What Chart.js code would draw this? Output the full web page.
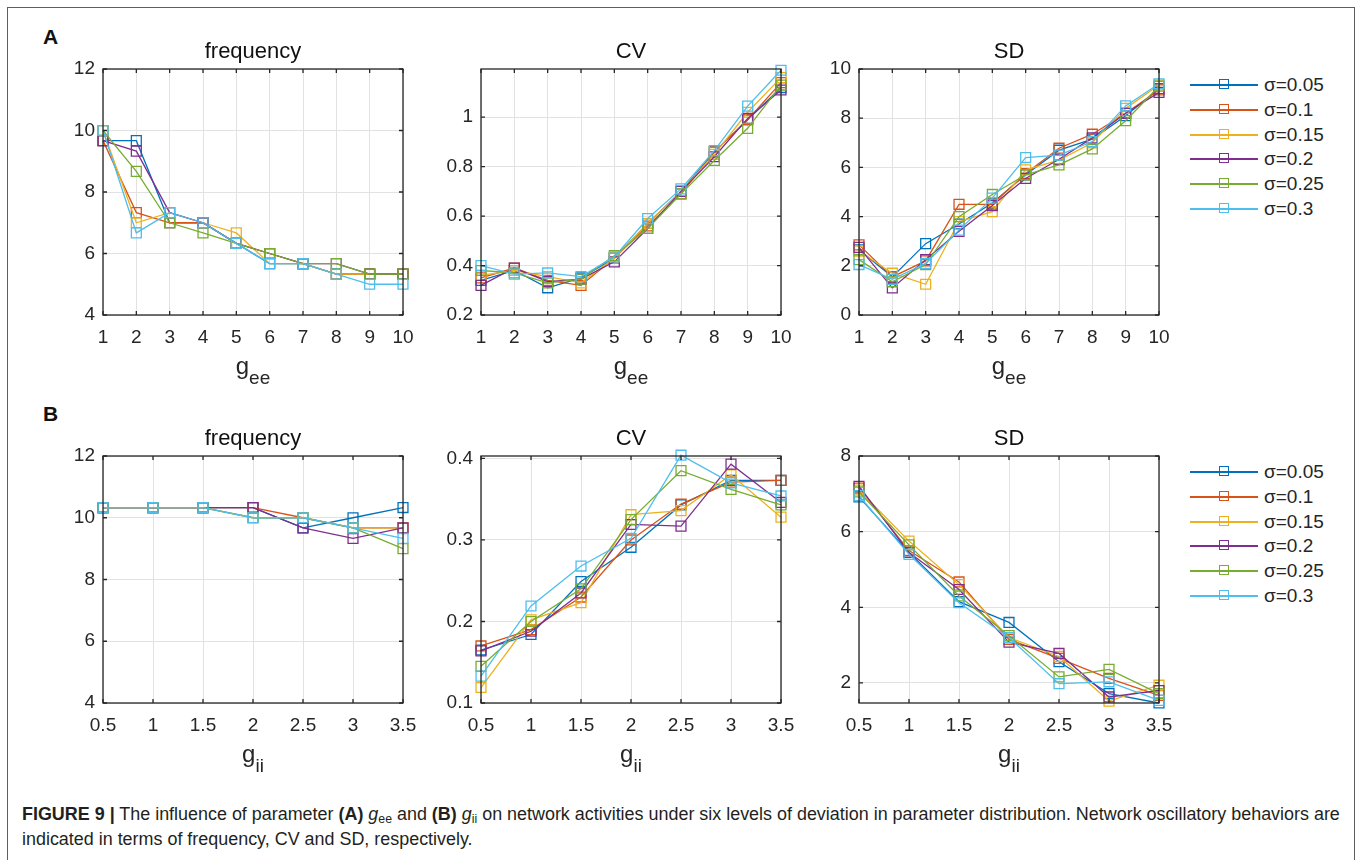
<!DOCTYPE html>
<html>
<head>
<meta charset="utf-8">
<script src="https://cdn.jsdelivr.net/npm/chart.js@4.4.0/dist/chart.umd.min.js"></script>
<style>
body { margin: 0; width: 1358px; height: 860px; overflow: hidden; position: relative; background: #fff;
  font-family: "Liberation Sans", Arial, sans-serif; color: #262626; }
.frame { position: absolute; left: 7px; top: 7px; width: 1346px; height: 900px; border: 1.5px solid #5e5e5e; }
.panel { position: absolute; }
.tag { position: absolute; font-weight: bold; font-size: 21px; line-height: 1; color: #111; }
.xl { position: absolute; font-size: 24px; line-height: 1; transform: translateX(-50%); white-space: nowrap; }
.xl sub { font-size: 19px; vertical-align: -10px; }
.leg { position: absolute; height: 20px; }
.leg .ln { position: absolute; left: 0; top: 9px; width: 68px; height: 1.5px; }
.leg .sq { position: absolute; left: 29px; top: 4px; width: 8px; height: 8px; border: 1.5px solid; }
.leg .tx { position: absolute; left: 74px; top: 0; font-size: 19px; line-height: 20px; white-space: nowrap; color: #262626; }
.cap { position: absolute; left: 22px; font-size: 17.5px; line-height: 1; white-space: nowrap; color: #231f20; transform-origin: 0 0; }
.cap sub { font-size: 12px; vertical-align: -3px; }
</style>
</head>
<body>
<div class="frame"></div>
<div class="tag" style="left:43px; top:26px;">A</div>
<div class="tag" style="left:43px; top:403px;">B</div>
<div id="cap1" class="cap" style="top:806px;"><b>FIGURE 9 |</b> The influence of parameter <b>(A)</b> <i>g</i><sub>ee</sub> and <b>(B)</b> <i>g</i><sub>ii</sub> on network activities under six levels of deviation in parameter distribution. Network oscillatory behaviors are</div>
<div id="cap2" class="cap" style="top:831px;">indicated in terms of frequency, CV and SD, respectively.</div>
<script>
// series: sigma levels
const sigmas = ["σ=0.05", "σ=0.1", "σ=0.15", "σ=0.2", "σ=0.25", "σ=0.3"];
const colors = ["#0072BD", "#D95319", "#EDB120", "#7E2F8E", "#77AC30", "#4DBEEE"];

// x values
const gee = [1, 2, 3, 4, 5, 6, 7, 8, 9, 10];
const gii = [0.5, 1, 1.5, 2, 2.5, 3, 3.5];

// (A) g_ee sweep, one row per sigma
const freqA = [
    [9.67, 9.67, 7.0, 7.0, 6.33, 5.67, 5.67, 5.33, 5.33, 5.33],
    [9.67, 7.33, 7.0, 7.0, 6.33, 6.0, 5.67, 5.33, 5.33, 5.33],
    [10, 7.0, 7.33, 7.0, 6.67, 5.67, 5.67, 5.33, 5.33, 5.33],
    [9.67, 9.33, 7.33, 7.0, 6.33, 6.0, 5.67, 5.67, 5.33, 5.33],
    [10, 8.67, 7.0, 6.67, 6.33, 6.0, 5.67, 5.67, 5.33, 5.33],
    [10, 6.67, 7.33, 7.0, 6.33, 5.67, 5.67, 5.33, 5.0, 5.0]
];
const cvA = [
    [0.34, 0.38, 0.31, 0.35, 0.43, 0.57, 0.70, 0.86, 0.99, 1.12],
    [0.35, 0.39, 0.34, 0.32, 0.43, 0.56, 0.69, 0.86, 0.99, 1.14],
    [0.36, 0.38, 0.355, 0.33, 0.43, 0.57, 0.70, 0.85, 1.02, 1.16],
    [0.32, 0.39, 0.335, 0.345, 0.415, 0.55, 0.70, 0.84, 0.995, 1.11],
    [0.38, 0.37, 0.33, 0.345, 0.44, 0.55, 0.69, 0.825, 0.955, 1.13],
    [0.40, 0.365, 0.37, 0.355, 0.435, 0.59, 0.71, 0.865, 1.045, 1.19]
];
const sdA = [
    [2.65, 1.55, 2.9, 3.7, 4.55, 5.7, 6.7, 7.15, 8.1, 9.2],
    [2.85, 1.55, 2.2, 4.5, 4.5, 5.75, 6.78, 7.35, 8.2, 9.15],
    [2.6, 1.7, 1.25, 3.8, 4.2, 5.9, 6.3, 7.0, 8.4, 9.35],
    [2.75, 1.1, 2.25, 3.4, 4.45, 5.55, 6.33, 7.2, 8.2, 9.05],
    [2.25, 1.35, 2.05, 4.0, 4.9, 5.7, 6.1, 6.75, 7.9, 9.3],
    [2.05, 1.45, 2.1, 3.45, 4.75, 6.4, 6.5, 7.05, 8.5, 9.4]
];

// (B) g_ii sweep
const freqB = [
    [10.33, 10.33, 10.33, 10.33, 9.67, 10.0, 10.33],
    [10.33, 10.33, 10.33, 10.33, 10.0, 9.67, 9.67],
    [10.33, 10.33, 10.33, 10.0, 10.0, 9.67, 9.67],
    [10.33, 10.33, 10.33, 10.33, 9.67, 9.33, 9.67],
    [10.33, 10.33, 10.33, 10.0, 10.0, 9.67, 9.0],
    [10.33, 10.33, 10.33, 10.0, 10.0, 9.67, 9.33]
];
const cvB = [
    [0.165, 0.184, 0.249, 0.291, 0.343, 0.373, 0.373],
    [0.170, 0.190, 0.230, 0.300, 0.344, 0.371, 0.373],
    [0.119, 0.202, 0.223, 0.331, 0.336, 0.380, 0.328],
    [0.164, 0.188, 0.235, 0.319, 0.317, 0.393, 0.346],
    [0.145, 0.200, 0.240, 0.325, 0.385, 0.362, 0.343],
    [0.133, 0.219, 0.268, 0.302, 0.404, 0.370, 0.354]
];
const sdB = [
    [6.92, 5.45, 4.15, 3.6, 2.56, 1.72, 1.47],
    [7.15, 5.5, 4.67, 3.15, 2.65, 2.12, 1.67],
    [7.1, 5.75, 4.6, 3.2, 2.7, 1.52, 1.94],
    [7.2, 5.45, 4.47, 3.08, 2.78, 1.63, 1.8],
    [7.05, 5.65, 4.3, 3.25, 2.16, 2.36, 1.72],
    [6.95, 5.4, 4.12, 3.2, 1.98, 2.03, 1.54]
];

// tick labels
const ticksFreq = [4, 6, 8, 10, 12];
const ticksCvA = [0.2, 0.4, 0.6, 0.8, 1];
const ticksSdA = [0, 2, 4, 6, 8, 10];
const ticksCvB = [0.1, 0.2, 0.3, 0.4];
const ticksSdB = [2, 4, 6, 8];

const FONT = "'Liberation Sans', Arial, sans-serif";
const PAD = 62, RPAD = 30, PW = 300, TITLE_H = 31, XAX_H = 40;
const GRID = "#e2e2e2", TXT = "#262626";

const panels = [
    { title: "frequency", xs: gee, ys: freqA, yMin: 4, yMax: 12, yTicks: ticksFreq, left: 103, top: 69, h: 246, xsub: "ee" },
    { title: "CV", xs: gee, ys: cvA, yMin: 0.2, yMax: 1.195, yTicks: ticksCvA, left: 481, top: 69, h: 246, xsub: "ee" },
    { title: "SD", xs: gee, ys: sdA, yMin: 0, yMax: 10, yTicks: ticksSdA, left: 859, top: 69, h: 246, xsub: "ee" },
    { title: "frequency", xs: gii, ys: freqB, yMin: 4, yMax: 12, yTicks: ticksFreq, left: 103, top: 456, h: 247, xsub: "ii" },
    { title: "CV", xs: gii, ys: cvB, yMin: 0.1, yMax: 0.403, yTicks: ticksCvB, left: 481, top: 456, h: 247, xsub: "ii" },
    { title: "SD", xs: gii, ys: sdB, yMin: 1.47, yMax: 8, yTicks: ticksSdB, left: 859, top: 456, h: 247, xsub: "ii" }
];

// matlab style box with inward ticks
const boxPlugin = {
    id: "box",
    afterDraw(chart) {
        const { ctx, chartArea: a, scales: { x, y } } = chart;
        ctx.save();
        ctx.strokeStyle = "#262626";
        ctx.lineWidth = 1.3;
        ctx.strokeRect(a.left, a.top, a.right - a.left, a.bottom - a.top);
        ctx.beginPath();
        x.ticks.forEach(t => {
            const px = x.getPixelForValue(t.value);
            ctx.moveTo(px, a.bottom); ctx.lineTo(px, a.bottom - 4);
            ctx.moveTo(px, a.top); ctx.lineTo(px, a.top + 4);
        });
        y.ticks.forEach(t => {
            const py = y.getPixelForValue(t.value);
            ctx.moveTo(a.left, py); ctx.lineTo(a.left + 4, py);
            ctx.moveTo(a.right, py); ctx.lineTo(a.right - 4, py);
        });
        ctx.stroke();
        ctx.restore();
    }
};

function makeChart(p) {
    const wrap = document.createElement("div");
    wrap.className = "panel";
    wrap.style.left = (p.left - PAD) + "px";
    wrap.style.top = (p.top - TITLE_H) + "px";
    const cv = document.createElement("canvas");
    cv.width = PAD + PW + RPAD;
    cv.height = TITLE_H + p.h + XAX_H;
    wrap.appendChild(cv);
    document.body.appendChild(wrap);

    new Chart(cv, {
        type: "line",
        data: {
            datasets: p.ys.map((row, i) => ({
                label: sigmas[i],
                data: row.map((v, j) => ({ x: p.xs[j], y: v })),
                borderColor: colors[i],
                borderWidth: 1.3,
                pointStyle: "rect",
                pointRadius: 7,
                pointHoverRadius: 7,
                pointBorderWidth: 1.3,
                pointBorderColor: colors[i],
                pointBackgroundColor: "rgba(0,0,0,0)",
                tension: 0,
                clip: false,
                order: 5 - i
            }))
        },
        options: {
            responsive: false,
            animation: false,
            events: [],
            layout: { autoPadding: false, padding: { left: 0, right: RPAD, top: 0, bottom: 0 } },
            plugins: {
                legend: { display: false },
                tooltip: { enabled: false },
                title: {
                    display: true, text: p.title, color: "#111", fullSize: false,
                    font: { family: FONT, size: 22, weight: "normal", lineHeight: 1 },
                    padding: { top: 3, bottom: 6 }
                }
            },
            scales: {
                x: {
                    type: "linear", min: p.xs[0], max: p.xs[p.xs.length - 1],
                    afterBuildTicks: s => { s.ticks = p.xs.map(v => ({ value: v })); },
                    afterFit: s => { s.height = XAX_H; },
                    grid: { color: GRID, drawTicks: false },
                    border: { display: false },
                    ticks: { color: TXT, font: { family: FONT, size: 19 }, padding: 11, maxRotation: 0, autoSkip: false, callback: v => String(v) }
                },
                y: {
                    type: "linear", min: p.yMin, max: p.yMax,
                    afterBuildTicks: s => { s.ticks = p.yTicks.map(v => ({ value: v })); },
                    afterFit: s => { s.width = PAD; },
                    grid: { color: GRID, drawTicks: false },
                    border: { display: false },
                    ticks: { color: TXT, font: { family: FONT, size: 19 }, padding: 8, autoSkip: false, callback: v => String(v) }
                }
            }
        },
        plugins: [boxPlugin]
    });

    // x axis label with subscript
    const xl = document.createElement("div");
    xl.className = "xl";
    xl.style.left = (p.left + PW / 2) + "px";
    xl.style.top = (p.top + p.h + 39) + "px";
    xl.innerHTML = "g<sub>" + p.xsub + "</sub>";
    document.body.appendChild(xl);
}

panels.forEach(makeChart);

// legends
[85, 472].forEach(top => {
    sigmas.forEach((lab, i) => {
        const d = document.createElement("div");
        d.className = "leg";
        d.style.left = "1190px";
        d.style.top = Math.round(top - 10 + i * 24.8) + "px";
        d.innerHTML = `<div class="ln" style="background:${colors[i]}"></div>` +
            `<div class="sq" style="border-color:${colors[i]}"></div>` +
            `<div class="tx">${lab}</div>`;
        document.body.appendChild(d);
    });
});

// fit caption width
const c1 = document.getElementById("cap1");
const c2 = document.getElementById("cap2");
const k = 1318 / c1.scrollWidth;
c1.style.transform = `scaleX(${k})`;
c2.style.transform = `scaleX(${k})`;
</script>
</body>
</html>
